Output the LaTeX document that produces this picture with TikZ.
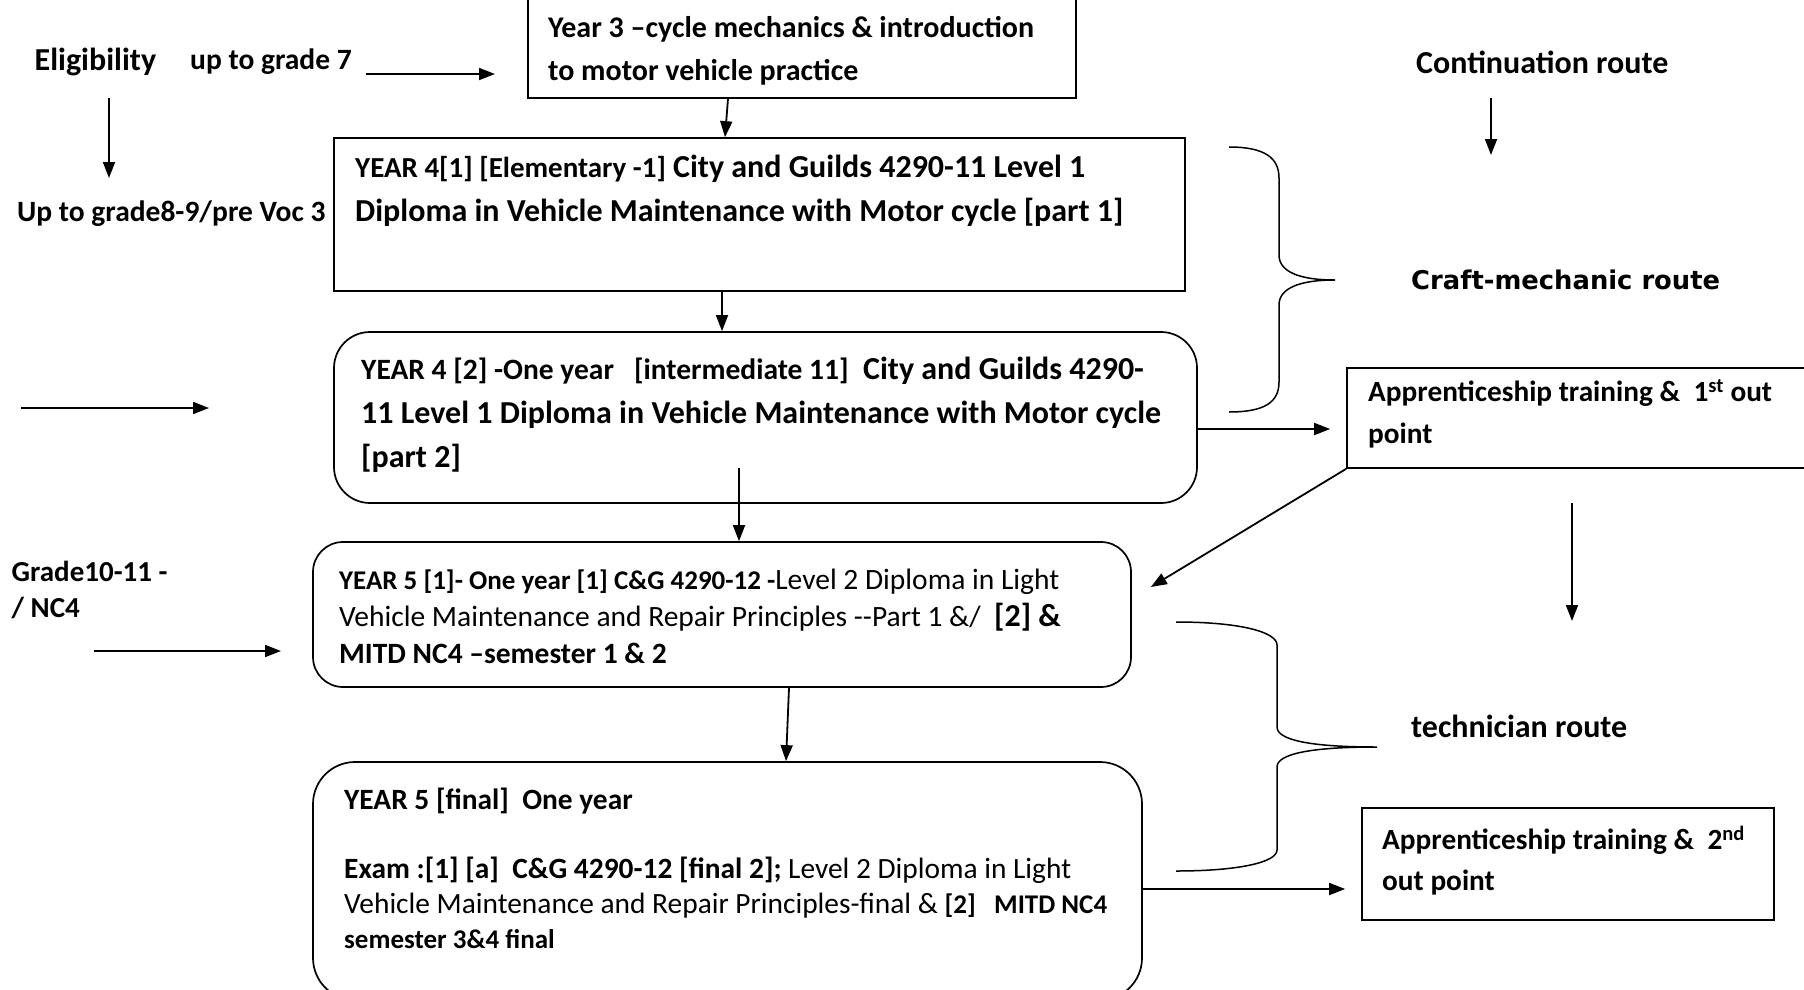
\documentclass[tikz,border=0pt]{standalone}
\usepackage{fontspec}
\setmainfont{Carlito}
\newfontfamily\heavyfont{DejaVu Sans}
\usetikzlibrary{arrows.meta,calc}
\newcommand{\fs}[2]{\fontsize{#1}{#2}\selectfont}
\begin{document}
\begin{tikzpicture}[x=1pt,y=-1pt,
  boxline/.style={draw=black,line width=1.7pt},
  sqbox/.style={boxline,rectangle,inner sep=0pt},
  rdbox/.style={boxline,rectangle,rounded corners=#1,inner sep=0pt},
  arr/.style={line width=1.8pt,-{Triangle[length=16pt,width=12pt]}},
  brc/.style={line width=1.5pt},
  txt/.style={anchor=north west,inner sep=0pt,align=left,font=\bfseries},
  lbl/.style={anchor=west,inner sep=0pt,font=\bfseries\fs{29.5}{34}}]
\clip (0,0) rectangle (1804,990);
\fill[white] (0,0) rectangle (1804,990);

% boxes
\node[sqbox,minimum width=548pt,minimum height=102pt] (y3) at (802,47) {};
\node[sqbox,minimum width=851pt,minimum height=153pt] (y41) at (759.5,214.5) {};
\node[rdbox=36pt,minimum width=863pt,minimum height=171pt] (y42) at (765.5,417.5) {};
\node[rdbox=30pt,minimum width=818pt,minimum height=145pt] (y51) at (722,614.5) {};
\node[rdbox=42pt,minimum width=829pt,minimum height=238pt] (y5f) at (727.5,881) {};
\node[sqbox,minimum width=473pt,minimum height=100pt] (app1) at (1583.5,418) {};
\node[sqbox,minimum width=412pt,minimum height=112pt] (app2) at (1568,864) {};

% box texts
\node[txt,font=\bfseries\fs{30}{43}] (t3) at (548,16)
  {Year 3 --cycle mechanics \& introduction\\to motor vehicle practice};
\node[txt,font=\bfseries\fs{32}{44}] (t41) at (355,155)
  {{\fs{29}{44}YEAR 4[1] [Elementary -1]} City and Guilds 4290-11 Level 1\\Diploma in Vehicle Maintenance with Motor cycle [part 1]};
\node[txt,font=\bfseries\fs{32}{44}] (t42) at (361,357)
  {{\fs{29.5}{44}YEAR 4 [2] -One year \ \ [intermediate 11]} \ City and Guilds 4290-\\11 Level 1 Diploma in Vehicle Maintenance with Motor cycle\\{}[part 2]};
\node[txt,font=\fs{29.5}{37}] (t51) at (339,569)
  {{\bfseries\fs{27}{37}YEAR 5 [1]- One year [1] C\&G 4290-12 -}Level 2 Diploma in Light\\Vehicle Maintenance and Repair Principles -{}-Part 1 \&/ \ {\bfseries\fs{32}{37}[2] \&}\\{\bfseries MITD NC4 --semester 1 \& 2}};
\node[txt,font=\fs{29.4}{35}] (t5f) at (344,788)
  {{\bfseries YEAR 5 [final] \ One year}\\[34pt]{\bfseries Exam :[1] [a] \ C\&G 4290-12 [final 2];} Level 2 Diploma in Light\\Vehicle Maintenance and Repair Principles-final \& {\bfseries\fs{27}{35}[2] \ \ MITD NC4}\\{\bfseries\fs{27}{35}semester 3\&4 final}};
\node[txt,font=\bfseries\fs{29.3}{42}] (ta1) at (1368,379)
  {Apprenticeship training \& \ 1\textsuperscript{st} out\\point};
\node[txt,font=\bfseries\fs{29.3}{41}] (ta2) at (1382,826)
  {Apprenticeship training \& \ 2\textsuperscript{nd}\\out point};

% free labels
\node[lbl,font=\bfseries\fs{32}{36}] (elig) at (34.5,62) {Eligibility};
\node[lbl] (g7) at (190,62) {up to grade 7};
\node[lbl] (g89) at (17,214) {Up to grade8-9/pre Voc 3};
\node[lbl,align=left,anchor=north west,font=\bfseries\fs{29}{36}] (g1011) at (11.5,561) {Grade10-11 -\\/ NC4};
\node[lbl,font=\bfseries\fs{32}{36}] (cont) at (1416,62) {Continuation route};
\node[lbl,font=\heavyfont\bfseries\fontsize{25.8}{30}\selectfont] (craft) at (1411,280) {Craft-mechanic route};
\node[lbl,font=\bfseries\fs{32}{36}] (tech) at (1411,726) {technician route};

% free arrow ends
\coordinate (e1a) at (366,74);  \coordinate (e1b) at (495,74);
\coordinate (e2a) at (109,98);  \coordinate (e2b) at (109,178);
\coordinate (e3a) at (21,408);  \coordinate (e3b) at (209,408);
\coordinate (e4a) at (94,651);  \coordinate (e4b) at (281,651);
\coordinate (e5a) at (1491,98); \coordinate (e5b) at (1491,155);
\coordinate (e6a) at (1572,503); \coordinate (e6b) at (1572,621);
\coordinate (e7a) at (739,468);

% connectors
\draw[arr] (e1a) -- (e1b);
\draw[arr] (e2a) -- (e2b);
\draw[arr] (e3a) -- (e3b);
\draw[arr] (e4a) -- (e4b);
\draw[arr] (e5a) -- (e5b);
\draw[arr] (e6a) -- (e6b);
\draw[arr] ([xshift=-74pt]y3.south) -- ([xshift=-34.5pt]y41.north);
\draw[arr] ([xshift=-37.5pt]y41.south) -- ([xshift=-43.5pt]y42.north);
\draw[arr] (e7a) -- ([xshift=17pt]y51.north);
\draw[arr] ([xshift=67pt]y51.south) -- ([xshift=58.5pt]y5f.north);
\draw[arr] ([yshift=-11.5pt]y42.east) -- ([xshift=-16pt,yshift=-11pt]app1.west);
\draw[arr] (app1.south west) -- ([xshift=19pt,yshift=27.5pt]y51.east);
\draw[arr] ([yshift=-8pt]y5f.east) -- ([xshift=-16pt,yshift=-25pt]app2.west);

% braces
\draw[brc] (1229,147) .. controls (1265,147) and (1279,158) .. (1279,178) -- (1279,255)
  .. controls (1279,272) and (1300,280) .. (1335,280)
  .. controls (1300,280) and (1279,288) .. (1279,305) -- (1279,382)
  .. controls (1279,402) and (1265,412) .. (1229,412);
\draw[brc] (1176,622) .. controls (1240,622) and (1277,632) .. (1277,645) -- (1277,727)
  .. controls (1277,740) and (1310,747) .. (1377,747)
  .. controls (1310,747) and (1277,754) .. (1277,767) -- (1277,850)
  .. controls (1277,862) and (1240,871) .. (1176,871);
\end{tikzpicture}
\end{document}
